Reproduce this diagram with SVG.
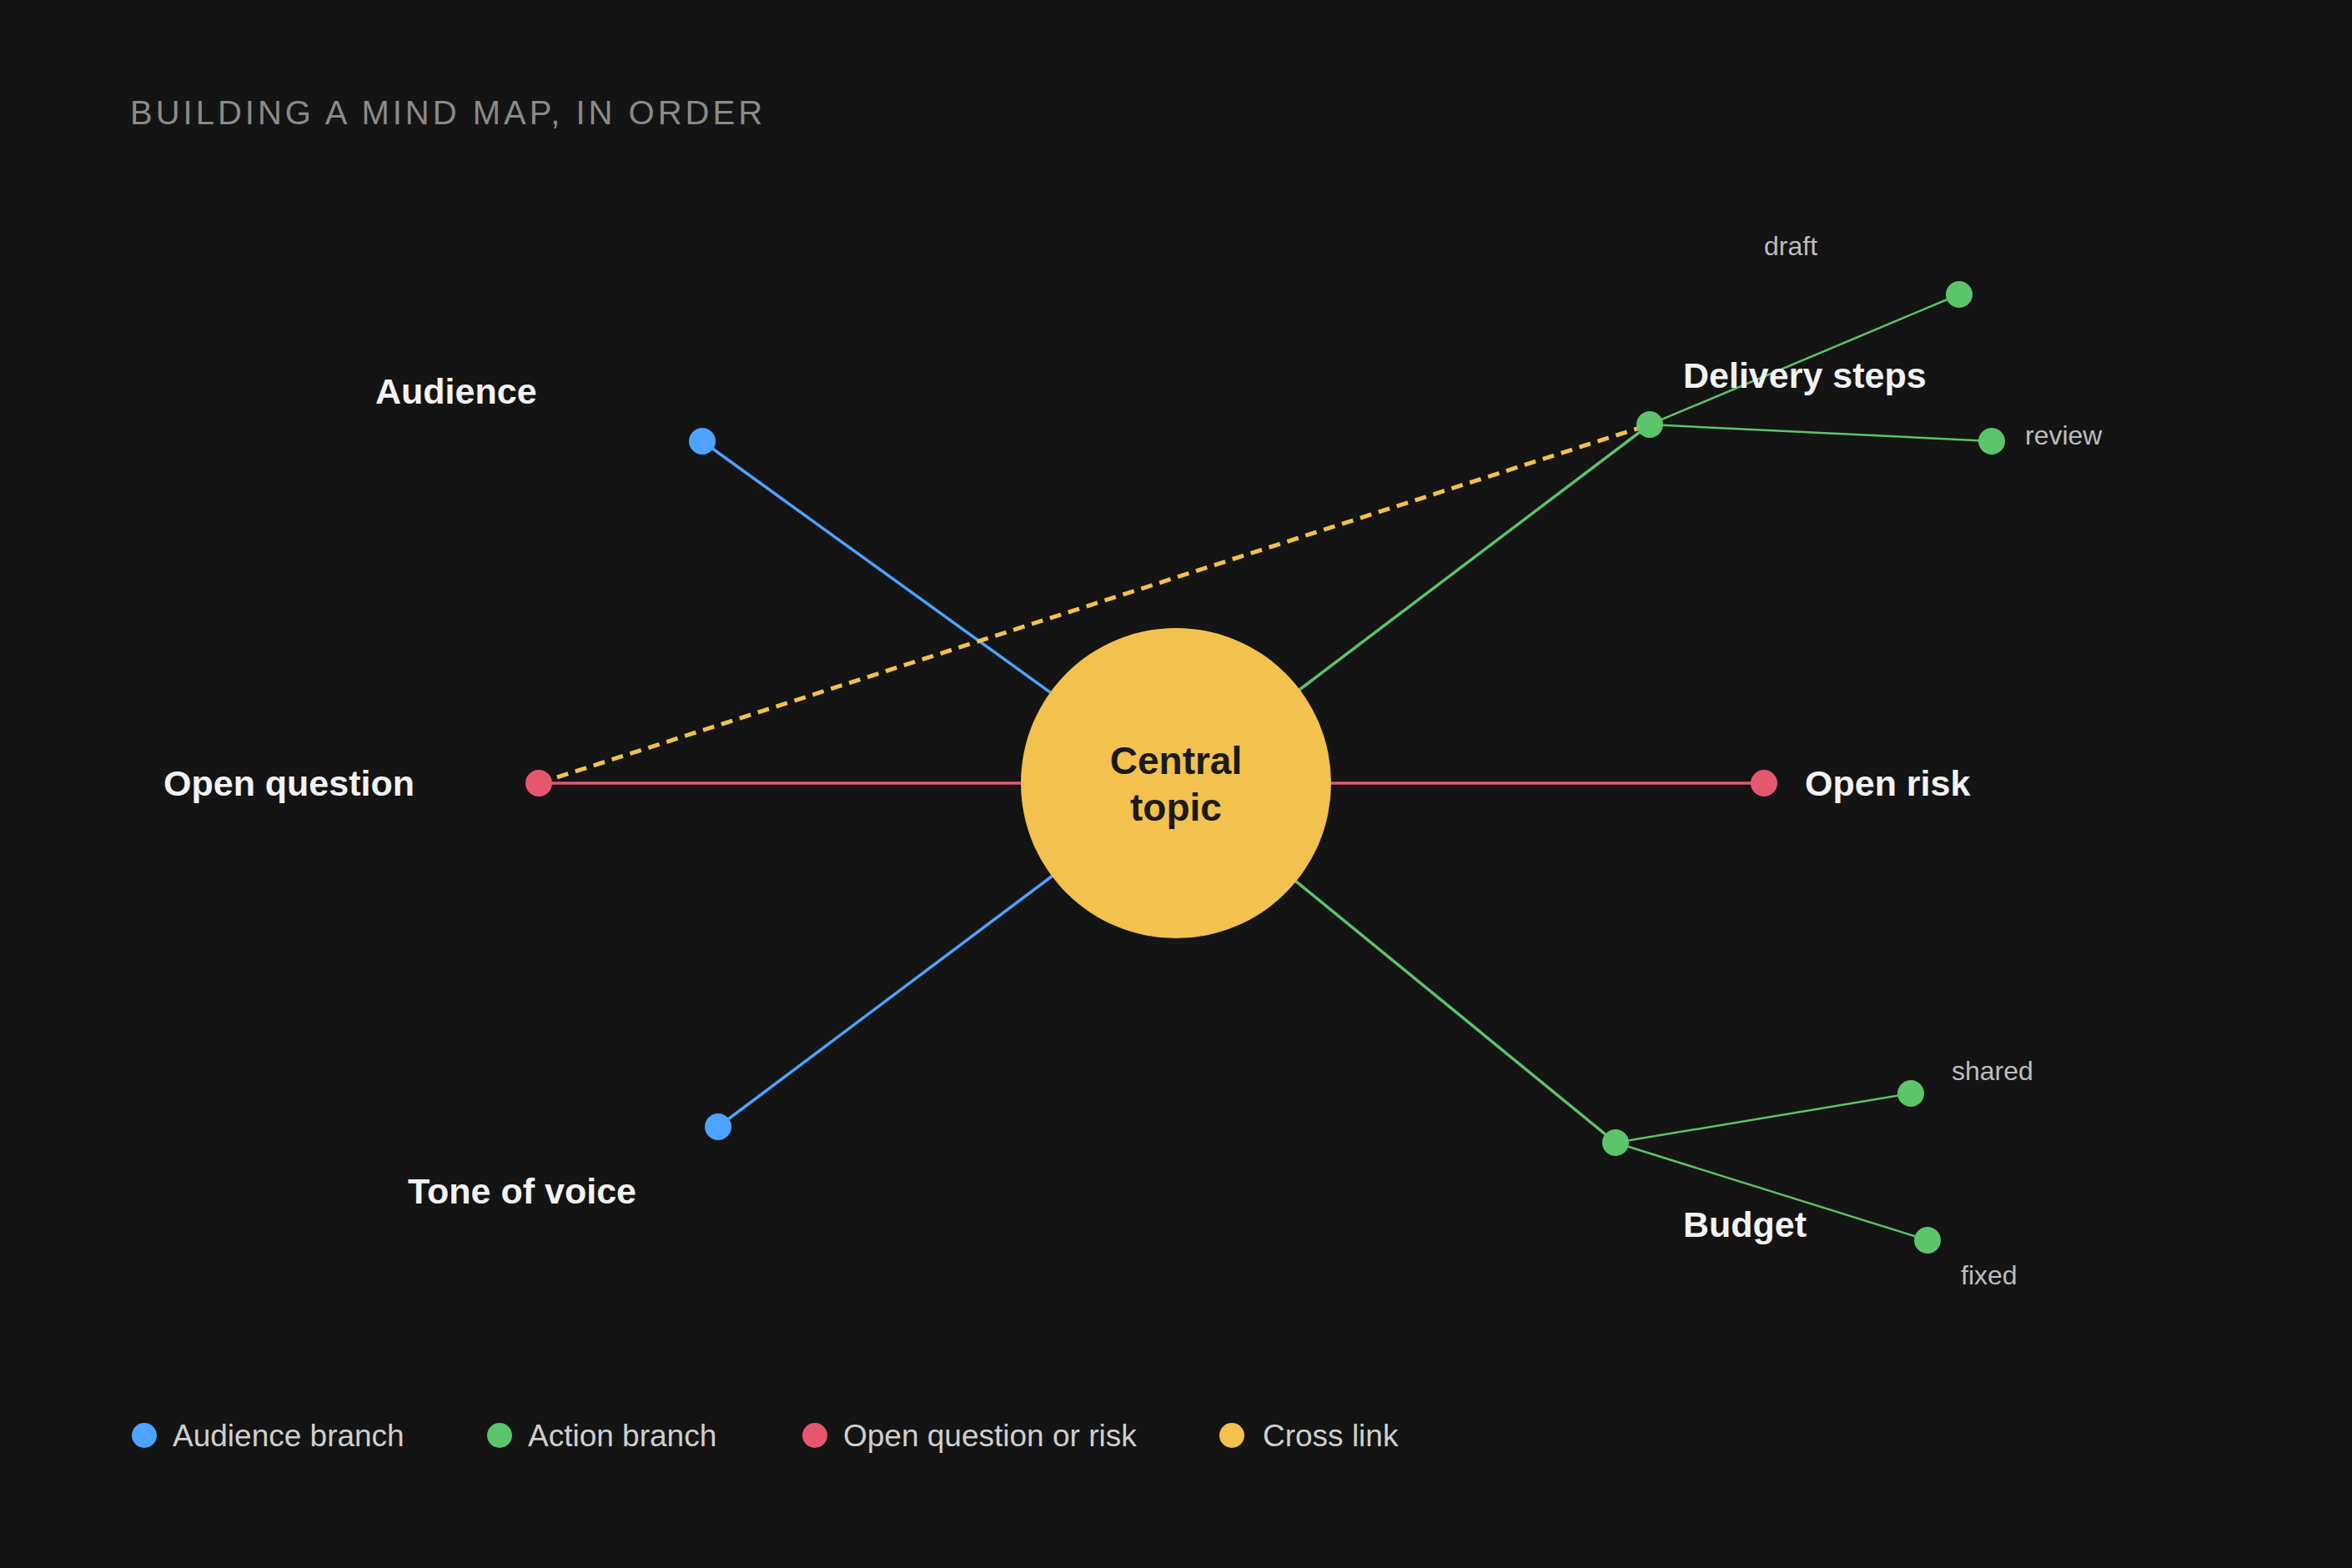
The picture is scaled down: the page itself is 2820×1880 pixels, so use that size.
<svg xmlns="http://www.w3.org/2000/svg" width="2820" height="1880" viewBox="0 0 2820 1880">
<style>
text{font-family:"Liberation Sans",Arial,sans-serif}
.title{font-size:40px;fill:#8a8a8a;letter-spacing:4px}
.lbl{font-size:43px;font-weight:bold;fill:#f2f2f2}
.sm{font-size:32px;fill:#bdbdbd}
.leg{font-size:37px;fill:#cfcfcf}
.ctr{font-size:46px;font-weight:bold;fill:#1a1a1a}
.b{stroke:#4da3ff;stroke-width:3.5;fill:none}
.g{stroke:#5cc46a;stroke-width:3.5;fill:none}
.gt{stroke:#5cc46a;stroke-width:2.5;fill:none}
.r{stroke:#e5566f;stroke-width:3.5;fill:none}
.x{stroke:#f2c14e;stroke-width:5;stroke-dasharray:14 9;fill:none}
.db{fill:#4da3ff}.dg{fill:#5cc46a}.dr{fill:#e5566f}.dy{fill:#f2c14e}
</style>
<rect width="2820" height="1880" fill="#141414"/>
<text class="title" x="156" y="149">BUILDING A MIND MAP, IN ORDER</text>
<g id="connectors">
<line class="b" x1="1410" y1="939" x2="842" y2="529"/>
<line class="b" x1="1410" y1="939" x2="861" y2="1351"/>
<line class="r" x1="1410" y1="939" x2="646" y2="939"/>
<line class="r" x1="1410" y1="939" x2="2115" y2="939"/>
<line class="g" x1="1410" y1="939" x2="1978" y2="509"/>
<line class="g" x1="1410" y1="939" x2="1937" y2="1370"/>
<line class="gt" x1="1978" y1="509" x2="2349" y2="353"/>
<line class="gt" x1="1978" y1="509" x2="2388" y2="529"/>
<line class="gt" x1="1937" y1="1370" x2="2291" y2="1311"/>
<line class="gt" x1="1937" y1="1370" x2="2311" y2="1487"/>
<line class="x" x1="646" y1="939" x2="1978" y2="509"/>
</g>
<g id="central"><circle cx="1410" cy="939" r="186" fill="#f2c14e"/>
<text class="ctr" x="1410" y="928" text-anchor="middle">Central</text>
<text class="ctr" x="1410" y="984" text-anchor="middle">topic</text></g>
<g id="audience"><circle class="db" cx="842" cy="529" r="16"/><text class="lbl" x="450" y="484">Audience</text></g>
<g id="tone"><circle class="db" cx="861" cy="1351" r="16"/><text class="lbl" x="489" y="1443">Tone of voice</text></g>
<g id="openq"><circle class="dr" cx="646" cy="939" r="16"/><text class="lbl" x="196" y="954">Open question</text></g>
<g id="openrisk"><circle class="dr" cx="2115" cy="939" r="16"/><text class="lbl" x="2164" y="954">Open risk</text></g>
<g id="delivery"><circle class="dg" cx="1978" cy="509" r="16"/><text class="lbl" x="2018" y="465">Delivery steps</text></g>
<g id="draft"><circle class="dg" cx="2349" cy="353" r="16"/><text class="sm" x="2115" y="306">draft</text></g>
<g id="review"><circle class="dg" cx="2388" cy="529" r="16"/><text class="sm" x="2428" y="533">review</text></g>
<g id="budget"><circle class="dg" cx="1937" cy="1370" r="16"/><text class="lbl" x="2018" y="1483">Budget</text></g>
<g id="shared"><circle class="dg" cx="2291" cy="1311" r="16"/><text class="sm" x="2340" y="1295">shared</text></g>
<g id="fixed"><circle class="dg" cx="2311" cy="1487" r="16"/><text class="sm" x="2351" y="1540">fixed</text></g>
<g id="legend">
<circle class="db" cx="173" cy="1721" r="15"/><text class="leg" x="207" y="1734">Audience branch</text>
<circle class="dg" cx="599" cy="1721" r="15"/><text class="leg" x="633" y="1734">Action branch</text>
<circle class="dr" cx="977" cy="1721" r="15"/><text class="leg" x="1011" y="1734">Open question or risk</text>
<circle class="dy" cx="1477" cy="1721" r="15"/><text class="leg" x="1514" y="1734">Cross link</text>
</g>
</svg>
